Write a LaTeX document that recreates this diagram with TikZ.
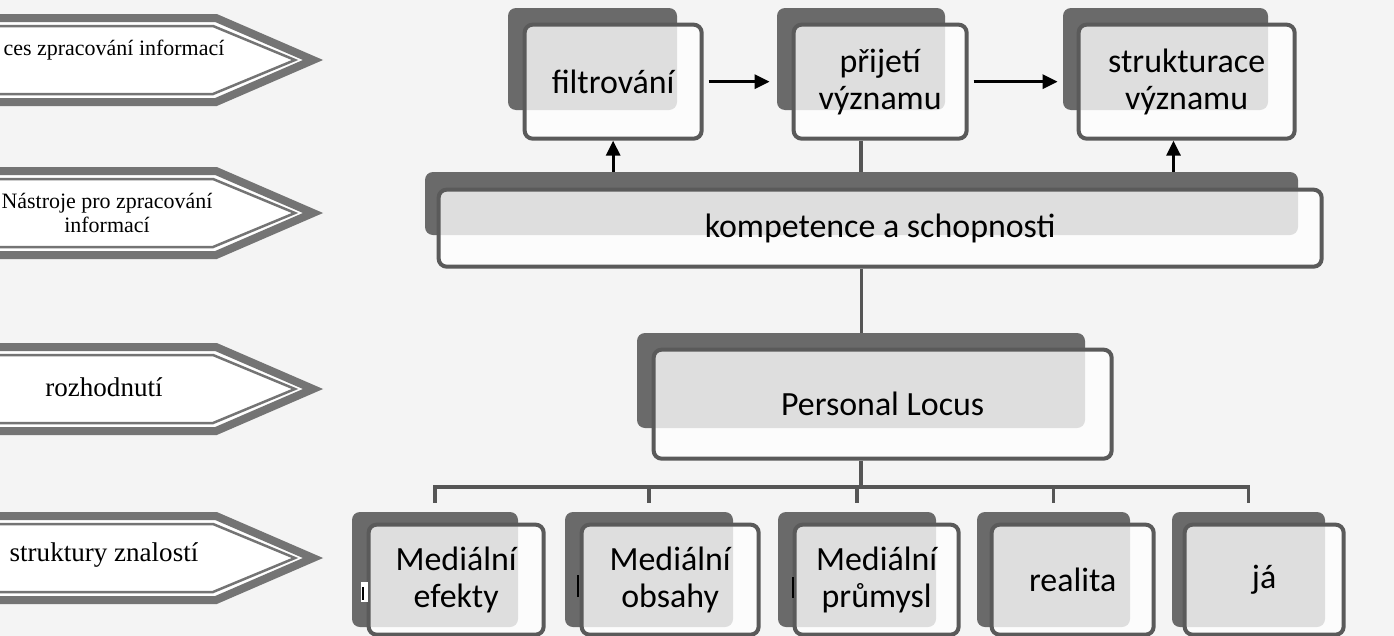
\documentclass[tikz,border=0pt]{standalone}
\usepackage{fontspec}
\setmainfont{Liberation Serif}
\newfontfamily\boxfont{Carlito}
\usetikzlibrary{arrows.meta,calc}

\definecolor{paper}{HTML}{F4F4F4}
\definecolor{backgray}{HTML}{6A6A6A}
\definecolor{framegray}{HTML}{5A5A5A}
\definecolor{linegray}{HTML}{555555}
\definecolor{taggray}{HTML}{747474}

\newlength{\upx}
\setlength{\upx}{0.02cm}

\begin{document}
\begin{tikzpicture}[x=0.02cm, y=-0.02cm,
	backbox/.style={fill=backgray, rounded corners=8\upx, inner sep=0pt},
	frontbox/.style={draw=framegray, line width=4\upx, fill=white, fill opacity=0.78, text opacity=1,
		rounded corners=8\upx, inner sep=0pt, anchor=north west, align=center,
		font=\boxfont\fontsize{19.3}{21}\selectfont},
	arr/.style={line width=3\upx, -{Triangle[length=0.3cm, width=0.28cm]}},
	tree/.style={draw=linegray, line width=3.5\upx},
	tagband/.style={draw=taggray, line width=8\upx, fill=white},
	tagline/.style={draw=taggray, line width=2.5\upx},
	tagtext/.style={font=\fontsize{12.5}{14}\selectfont, align=center},
	bigtag/.style={font=\fontsize{15.4}{17}\selectfont}]
	
	\fill[paper] (0,0) rectangle (1394,636);
	\useasboundingbox (0,0) rectangle (1394,636);
	\clip (0,0) rectangle (1394,636);
	
	% --- levé šipky ---
	\foreach \c in {60,213,389,558} {
		\draw[tagband] (-20,\c-42) -- (216,\c-42) -- (313,\c) -- (216,\c+42) -- (-20,\c+42);
		\draw[tagline] (-20,\c-34) -- (213,\c-34) -- (295,\c) -- (213,\c+34) -- (-20,\c+34);
	}
	\node[tagtext] (tag1) at (114,50) {ces zpracování informací};
	\node[tagtext] (tag2) at (107,213) {Nástroje pro zpracování\\informací};
	\node[tagtext, bigtag] (tag3) at (104,387) {rozhodnutí};
	\node[tagtext, bigtag] (tag4) at (104,555) {struktury znalostí};
	
	% --- horní řada ---
	\node[backbox, minimum width=169\upx, minimum height=102\upx] (fil-b) at (592.5,59) {};
	\node[backbox, minimum width=168\upx, minimum height=102\upx] (pri-b) at (861,59) {};
	\node[backbox, minimum width=205\upx, minimum height=102\upx] (str-b) at (1165.5,59) {};
	\node[frontbox, minimum width=177\upx, minimum height=114\upx] (fil) at ([shift={(15,15)}]fil-b.north west) {filtrování};
	\node[frontbox, minimum width=173\upx, minimum height=114\upx] (pri) at ([shift={(15,15)}]pri-b.north west) {přijetí\\významu};
	\node[frontbox, minimum width=216\upx, minimum height=114\upx] (str) at ([shift={(14,15)}]str-b.north west) {strukturace\\významu};
	
	% --- kompetence ---
	\node[backbox, minimum width=873\upx, minimum height=63\upx] (kom-b) at (861.5,203.5) {};
	\node[frontbox, minimum width=883\upx, minimum height=77\upx] (kom) at ([shift={(12,16)}]kom-b.north west) {kompetence a schopnosti};
	
	% --- Personal Locus ---
	\node[backbox, minimum width=448\upx, minimum height=95\upx] (loc-b) at (861,380.5) {};
	\node[frontbox, minimum width=458\upx, minimum height=109\upx] (loc) at ([shift={(15,15)}]loc-b.north west) {Personal Locus};
	
	% --- dolní řada ---
	\foreach \n/\cx/\bw in {ef/435/166, ob/649/168, pr/857/158, re/1053.5/153, ja/1248.5/153} {
		\node[backbox, minimum width=\bw\upx, minimum height=115\upx] (\n-b) at (\cx,569.5) {};
	}
	\node[frontbox, minimum width=175\upx, minimum height=110\upx] (ef) at ([shift={(15,11)}]ef-b.north west) {Mediální\\efekty};
	\node[frontbox, minimum width=177\upx, minimum height=110\upx] (ob) at ([shift={(15,11)}]ob-b.north west) {Mediální\\obsahy};
	\node[frontbox, minimum width=164\upx, minimum height=110\upx] (pr) at ([shift={(15,11)}]pr-b.north west) {Mediální\\průmysl};
	\node[frontbox, minimum width=162\upx, minimum height=110\upx] (re) at ([shift={(13,11)}]re-b.north west) {realita};
	\node[frontbox, minimum width=159\upx, minimum height=110\upx] (ja) at ([shift={(11,11)}]ja-b.north west) {já};
	
	% drobné svislé čárky u textu
	\fill[white] (361,582) rectangle (368,602);
	\draw[line width=2\upx] (363,587) -- (363,600);
	\draw[line width=2\upx] (578,575) -- (578,597);
	\draw[line width=2\upx] (793,577) -- (793,598);
	
	% --- spojnice ---
	\draw[arr, shorten <=5\upx, shorten >=7\upx] (fil.east) -- (fil.east -| pri-b.west);
	\draw[arr, shorten <=5\upx, shorten >=5\upx] (pri.east) -- (pri.east -| str-b.west);
	\coordinate (strfoot) at ($(str-b.south)+(8,0)$);
	\draw[arr] (fil.south |- kom-b.north) -- (fil.south);
	\draw[arr] (strfoot |- kom-b.north) -- (strfoot |- str.south);
	\draw[tree] (pri-b.south |- pri.south) -- (pri-b.south |- kom-b.north);
	\draw[tree] (kom-b.south |- kom.south) -- (kom-b.south |- loc-b.north);
	\coordinate (bus) at (861,487);
	\draw[tree] (loc-b.south |- loc.south) -- (bus);
	\foreach \n in {ef,ob,pr,re,ja} {
		\draw[tree, shorten >=9\upx] (bus) -| (\n-b.north);
	}
\end{tikzpicture}
\end{document}
